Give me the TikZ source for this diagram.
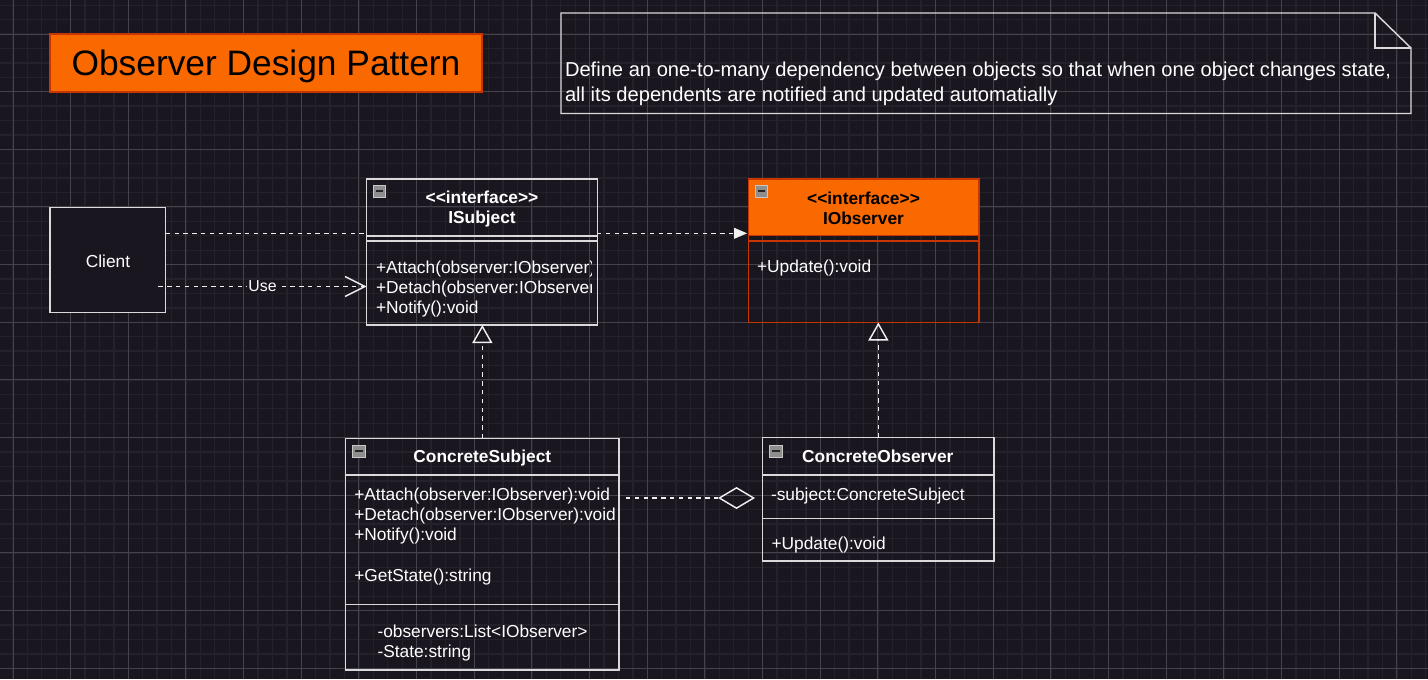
\documentclass[tikz,border=0pt]{standalone}
\usepackage{fontspec}
\newfontfamily\lib{Liberation Sans}
\usetikzlibrary{arrows.meta}
\definecolor{bgc}{HTML}{19161F}
\definecolor{gmin}{HTML}{24212A}
\definecolor{gmaj}{HTML}{44424A}
\definecolor{bord}{HTML}{DADADA}
\definecolor{edgec}{HTML}{F0F0F0}
\definecolor{orng}{HTML}{FA6800}
\definecolor{orngd}{HTML}{C73500}
\definecolor{iconf}{HTML}{8E8E8E}
\definecolor{icone}{HTML}{C8C8C8}
\newcommand\umlicon[2]{%
  \fill[iconf] (#1,#2) rectangle ++(12.5,12);
  \draw[icone, line width=0.6pt] (#1,#2) rectangle ++(12.5,12);
  \draw[black!85, line width=1.3pt] (#1+2.5,#2+6) -- (#1+10,#2+6);
}
\begin{document}
\begin{tikzpicture}[x=0.75pt,y=-0.75pt,
  box/.style={draw=bord, line width=1.08pt, inner sep=0pt, outer sep=0pt, anchor=north west},
  obox/.style={box, draw=orngd},
  titlebox/.style={box, draw=orngd, fill=orng, line width=0.9pt},
  txt/.style={inner sep=0pt, outer sep=0pt, text=white, font=\lib\fontsize{13}{15}\selectfont},
  txtb/.style={txt, font=\lib\bfseries\fontsize{13}{15}\selectfont},
  notetxt/.style={txt, font=\lib\fontsize{15.1}{18}\selectfont},
  divl/.style={draw=bord, line width=1.08pt},
  odivl/.style={draw=orngd, line width=1.08pt},
  dep/.style={draw=edgec, line width=1.08pt, dash pattern=on 3.3pt off 3.3pt},
  lbl/.style={fill=bgc, text=white, inner sep=1pt, font=\lib\fontsize{11.9}{14}\selectfont}
]
\fill[bgc] (0,0) rectangle (1428,679);
\useasboundingbox (0,0) rectangle (1428,679);
% grid
\foreach \i in {-1,...,99} \draw[gmin, line width=1pt] ({13+\i*14.415},0) -- ({13+\i*14.415},679);
\foreach \j in {-3,...,45} \draw[gmin, line width=1pt] (0,{34+\j*14.415}) -- (1428,{34+\j*14.415});
\foreach \i in {0,...,24} \draw[gmaj, line width=0.75pt] ({13+\i*57.66},0) -- ({13+\i*57.66},679);
\foreach \j in {-1,...,11} \draw[gmaj, line width=0.75pt] (0,{34+\j*57.66}) -- (1428,{34+\j*57.66});

% title
\node[titlebox, minimum width=432*0.75pt, minimum height=58*0.75pt] (title) at (50,34) {};
\node[txt, text=black, anchor=base, font=\lib\fontsize{26.5}{30}\selectfont] (titletxt) at (266,75) {Observer Design Pattern};

% note
\draw[bord, line width=1.08pt] (561,13) -- (1375,13) -- (1411,48) -- (1411,113.5) -- (561,113.5) -- cycle;
\draw[bord, line width=1.08pt] (1375,13) -- (1375,48) -- (1411,48);
\node[notetxt, anchor=base west] (note1) at (565,76.7) {Define an one-to-many dependency between objects so that when one object changes state,};
\node[notetxt, anchor=base west] (note2) at (565,101.7) {all its dependents are notified and updated automatially};

% Client
\node[box, fill=bgc, minimum width=115.5*0.75pt, minimum height=105*0.75pt] (client) at (50,207.5) {};
\node[txt, anchor=base] (clienttxt) at (108,267.3) {Client};

% ISubject
\node[box, minimum width=231*0.75pt, minimum height=146*0.75pt] (IS) at (366.7,179) {};
\draw[divl] (366.7,236) -- (597.7,236);
\draw[divl] (366.7,241) -- (597.7,241);
\umlicon{373}{185}
\node[txtb, anchor=base] (IShead1) at (482,203.5) {<<interface>>};
\node[txtb, anchor=base] (IShead2) at (482,223.5) {ISubject};
\begin{scope}
\clip (367,242) rectangle (591,324);
\node[txt, anchor=base west] (ISm1) at (376,273.3) {+Attach(observer:IObserver):void};
\node[txt, anchor=base west] (ISm2) at (376,293.3) {+Detach(observer:IObserver):void};
\node[txt, anchor=base west] (ISm3) at (376,313.3) {+Notify():void};
\end{scope}

% IObserver
\fill[orng] (748.5,179) rectangle (979,235.7);
\node[obox, minimum width=230.5*0.75pt, minimum height=143.5*0.75pt] (IO) at (748.5,179) {};
\draw[odivl] (748.5,235.7) -- (979,235.7);
\draw[odivl] (748.5,241) -- (979,241);
\umlicon{755}{185}
\node[txtb, text=black, anchor=base] (IOhead1) at (863.5,204) {<<interface>>};
\node[txtb, text=black, anchor=base] (IOhead2) at (863.5,224) {IObserver};
\node[txt, anchor=base west] (IOm1) at (757,272.5) {+Update():void};

% ConcreteSubject
\node[box, minimum width=273.3*0.75pt, minimum height=231.7*0.75pt] (CS) at (345.7,438.3) {};
\draw[divl] (345.7,475) -- (619,475);
\draw[divl] (345.7,604.3) -- (619,604.3);
\umlicon{352.5}{445}
\node[txtb, anchor=base] (CShead) at (482.3,462.3) {ConcreteSubject};
\node[txt, anchor=base west] (CSm1) at (354.3,500.7) {+Attach(observer:IObserver):void};
\node[txt, anchor=base west] (CSm2) at (354.3,520.7) {+Detach(observer:IObserver):void};
\node[txt, anchor=base west] (CSm3) at (354.3,540.7) {+Notify():void};
\node[txt, anchor=base west] (CSm4) at (354.3,581) {+GetState():string};
\node[txt, anchor=base west] (CSa1) at (377.5,637.3) {-observers:List<IObserver>};
\node[txt, anchor=base west] (CSa2) at (377.5,657.5) {-State:string};

% ConcreteObserver
\node[box, minimum width=231.3*0.75pt, minimum height=123.3*0.75pt] (CO) at (762.7,437.7) {};
\draw[divl] (762.7,475) -- (994,475);
\draw[divl] (762.7,518.3) -- (994,518.3);
\umlicon{769.5}{445}
\node[txtb, anchor=base] (COhead) at (877.8,462.3) {ConcreteObserver};
\node[txt, anchor=base west] (COa1) at (771,500.7) {-subject:ConcreteSubject};
\node[txt, anchor=base west] (COm1) at (771.5,549) {+Update():void};

% connectors
\coordinate (a1) at (165.7,233.3);
\begin{scope}[even odd rule]
\clip (0,0) rectangle (1428,679) (366.7,179) rectangle (597.7,325);
\draw[dep, -{Triangle[length=9.75pt,width=8pt]}] (a1) -- ([xshift=-1pt]a1 -| IO.west);
\end{scope}

\coordinate (u1) at (158.3,286.5);
\draw[dep, -{Straight Barb[length=15pt,width=15pt]}] (u1) -- node[lbl] (uselbl) {Use} (u1 -| IS.west);

\draw[dep, -{Triangle[open,length=13.5pt,width=15pt]}] (CS.north) -- (CS.north |- IS.south);
\draw[dep, -{Triangle[open,length=13.5pt,width=15pt]}] (CO.north) -- (CO.north |- IO.south);

\coordinate (g1) at (626,498);
\coordinate (g2) at (755,498);
\draw[dep, -{Diamond[open,length=27.75pt,width=16.5pt]}] (g1) -- (g2);
\end{tikzpicture}
\end{document}
